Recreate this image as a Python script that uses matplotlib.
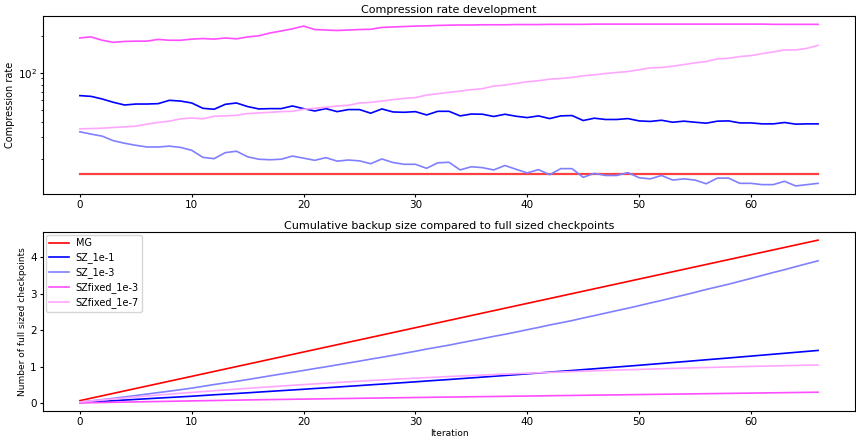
import matplotlib
matplotlib.use("Agg")
import matplotlib.pyplot as plt
import numpy as np

# compression rate per iteration
iterations = np.arange(67)

mg = [15.0] * 67

sz_1e1 = [65.2, 64.3, 61.2, 57.5, 54.7, 55.7, 55.7, 56.1, 59.7, 58.9,
          56.8, 51.4, 50.5, 55.4, 56.8, 53.1, 50.8, 51.1, 51.1, 53.7,
          51.1, 48.9, 51.1, 48.3, 50.2, 50.2, 46.9, 50.8, 48.0, 47.7,
          48.3, 45.4, 48.6, 48.6, 44.6, 46.2, 46.0, 44.1, 46.0, 44.3,
          43.2, 44.6, 42.4, 44.6, 44.9, 40.9, 42.7, 41.7, 41.7, 42.4,
          40.6, 40.2, 41.1, 39.6, 40.4, 39.6, 38.9, 40.4, 40.6, 39.1,
          39.1, 38.4, 38.4, 39.4, 38.2, 38.4, 38.4]

sz_1e3 = [33.1, 31.7, 30.5, 28.0, 26.7, 25.7, 24.9, 24.9, 25.3, 24.7,
          23.4, 20.5, 20.0, 22.4, 23.0, 20.7, 19.8, 19.6, 19.8, 21.0,
          20.2, 19.4, 20.4, 19.1, 19.5, 19.2, 18.2, 19.9, 18.6, 18.0,
          18.0, 16.7, 18.5, 18.7, 16.2, 17.2, 16.9, 16.2, 17.6, 16.4,
          15.3, 16.3, 14.8, 16.6, 16.6, 14.1, 15.2, 14.6, 14.6, 15.4,
          14.0, 13.7, 14.6, 13.4, 13.7, 13.4, 12.5, 13.9, 13.9, 12.6,
          12.6, 12.3, 12.3, 13.1, 12.0, 12.3, 12.6]

szfixed_1e3 = [192, 196, 184, 177, 180, 181, 181, 187, 184, 184,
               188, 190, 188, 192, 189, 196, 200, 211, 219, 228,
               240, 225, 223, 221, 223, 225, 226, 234, 236, 238,
               240, 241, 243, 244, 245, 245, 246, 246, 246, 247,
               247, 247, 248, 248, 248, 248, 249, 249, 249, 249,
               249, 249, 249, 249, 249, 249, 249, 249, 249, 249,
               249, 249, 248, 248, 248, 248, 248]

szfixed_1e7 = [35.0, 35.2, 35.4, 35.9, 36.3, 36.8, 38.2, 39.4, 40.4, 42.2,
               42.9, 42.2, 44.3, 44.6, 45.1, 46.6, 47.1, 47.7, 48.3, 48.6,
               50.5, 51.4, 52.4, 53.7, 54.4, 56.8, 57.5, 58.9, 60.5, 61.9,
               62.8, 65.9, 67.6, 69.3, 71.0, 72.9, 74.3, 78.0, 79.4, 81.9,
               84.6, 86.2, 88.8, 89.9, 91.6, 94.6, 96.3, 98.7, 100.6, 102.4,
               105.8, 109.8, 110.4, 113.1, 116.7, 120.5, 123.4, 129.8, 131.2, 135.5,
               138.0, 143.2, 147.8, 153.5, 153.5, 158.1, 167.2]

labels = ["MG", "SZ_1e-1", "SZ_1e-3", "SZfixed_1e-3", "SZfixed_1e-7"]
series = [mg, sz_1e1, sz_1e3, szfixed_1e3, szfixed_1e7]
colors = ["#ff0000", "#0000ff", "#8080ff", "#ff4dff", "#ffa6ff"]

fig = plt.figure(figsize=(8.56, 4.38), dpi=100)
ax1 = fig.add_axes([0.0502, 0.557, 0.9486, 0.4064])
ax2 = fig.add_axes([0.0502, 0.0616, 0.9486, 0.4087])

for name, vals, c in zip(labels, series, colors):
    lw = 1.6 if name == "MG" else 1.2
    col = "#ff4040" if name == "MG" else c
    ax1.plot(iterations, vals, color=col, lw=lw, label=name)
    # cumulative backup size in units of a full checkpoint
    cum = np.cumsum(1.0 / np.asarray(vals, dtype=float))
    ax2.plot(iterations, cum, color=c, lw=1.2, label=name)

ax1.set_yscale("log")
ax1.set_title("Compression rate development", fontsize=8, pad=2)
ax1.set_ylabel("Compression rate", fontsize=7, labelpad=2)
ax1.set_xticks([0, 10, 20, 30, 40, 50, 60])

ax2.set_title("Cumulative backup size compared to full sized checkpoints", fontsize=8, pad=2)
ax2.set_xlabel("Iteration", fontsize=6.5, labelpad=1)
ax2.set_ylabel("Number of full sized checkpoints", fontsize=6.5, labelpad=2)
ax2.set_xticks([0, 10, 20, 30, 40, 50, 60])
ax2.set_yticks([0, 1, 2, 3, 4])

for ax in (ax1, ax2):
    ax.tick_params(which="major", labelsize=7.5, length=2.5, pad=2)
    ax.tick_params(which="minor", length=1.5)

ax2.legend(loc="upper left", fontsize=7, handlelength=2.0, handletextpad=0.7,
           borderpad=0.35, labelspacing=0.42, borderaxespad=0.3)

fig.savefig("out.png", dpi=100)
